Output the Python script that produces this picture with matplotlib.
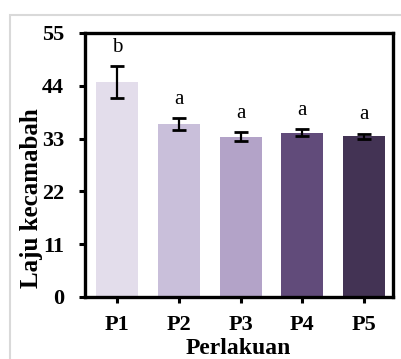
import matplotlib
matplotlib.use("Agg")
import matplotlib.pyplot as plt
from matplotlib.patches import Rectangle

perlakuan = ["P1", "P2", "P3", "P4", "P5"]
laju = [44.8, 36.0, 33.4, 34.2, 33.5]
galat = [3.3, 1.3, 1.0, 0.7, 0.55]
notasi = ["b", "a", "a", "a", "a"]
warna = ["#e3ddeb", "#c9bfda", "#b3a3c8", "#614b7a", "#433354"]

plt.rcParams["font.family"] = ["Liberation Serif", "DejaVu Serif"]

fig = plt.figure(figsize=(4.01, 3.59), dpi=100)
ax = fig.add_axes([85 / 401, 1 - 297 / 359, 308 / 401, 264 / 359])

# bingkai abu-abu tipis
fig.patches.append(Rectangle((10 / 401, -0.1), 1.2, 1 - 15 / 359 + 0.1,
                             transform=fig.transFigure, fill=False,
                             edgecolor="#d9d9d9", linewidth=1.5))

x = range(len(perlakuan))
ax.bar(x, laju, width=0.68, color=warna, yerr=galat,
       error_kw=dict(ecolor="black", elinewidth=1.6, capsize=5, capthick=2))

for i in x:
    ax.annotate(notasi[i], (i, laju[i] + galat[i]), xytext=(0, 13.5),
                textcoords="offset points", ha="center", va="center",
                fontsize=15)

ax.set_xlim(-0.52, 4.47)
ax.set_ylim(0, 55)
ax.set_yticks([0, 11, 22, 33, 44, 55])
ax.set_xticks(list(x))
ax.set_xticklabels(perlakuan)
for s in ax.spines.values():
    s.set_linewidth(2.4)
ax.tick_params(axis="both", width=2.2, length=4, labelsize=16)
ax.tick_params(axis="x", pad=9)
ax.tick_params(axis="y", pad=11)
for t in ax.get_xticklabels() + ax.get_yticklabels():
    t.set_fontweight("bold")
ax.set_xlabel("Perlakuan", fontsize=17, fontweight="bold")
ax.set_ylabel("Laju kecamabah", fontsize=18, fontweight="bold")
ax.xaxis.set_label_coords(0.498, -0.155)
ax.yaxis.set_label_coords(-0.137, 0.373)

fig.savefig("out.png", dpi=100)
